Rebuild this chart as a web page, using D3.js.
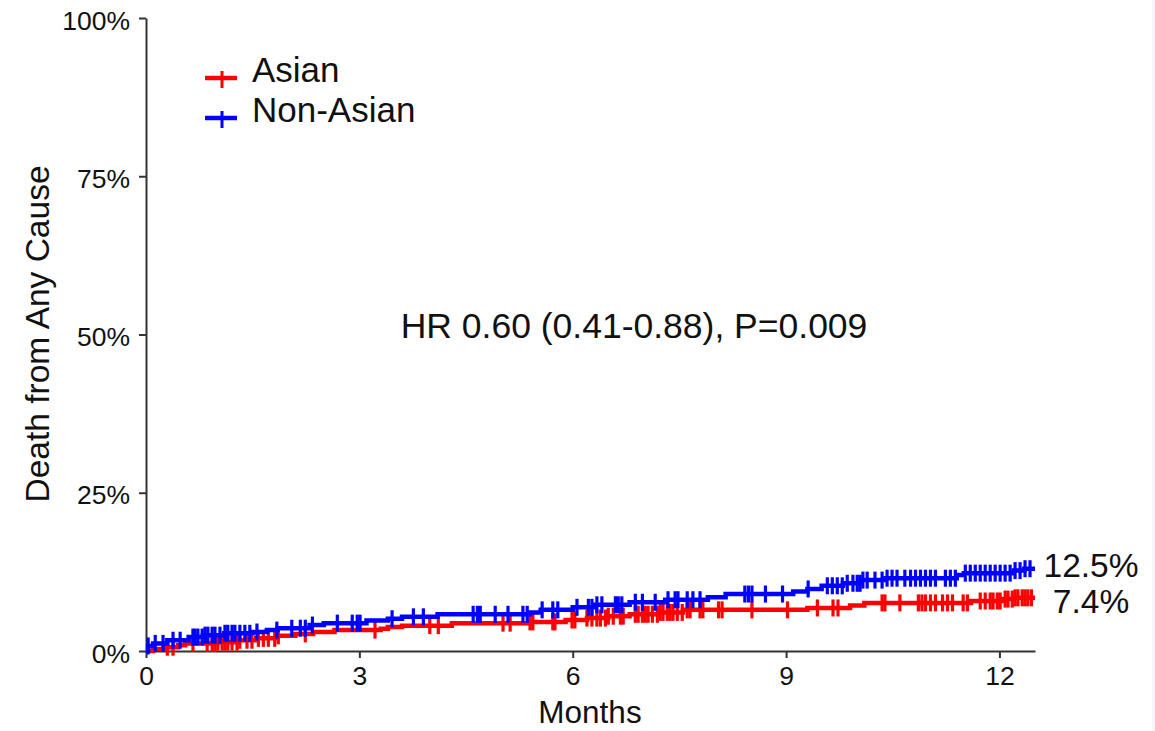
<!DOCTYPE html>
<html>
<head>
<meta charset="utf-8">
<script src="https://cdn.jsdelivr.net/npm/d3@7"></script>
<style>
  html, body { margin: 0; padding: 0; background: #fff; }
  svg { display: block; font-family: Arial, "Liberation Sans", sans-serif; }
</style>
</head>
<body>
<svg id="main-svg" width="1155" height="731"></svg>
<script>
// ----- //
// data (months, cumulative % dead)
// ----- //
const asianSteps = [
  [0, 0], [0.1, 0.3], [0.25, 0.6], [0.45, 0.9], [0.55, 1.2], [1.0, 1.4], [1.3, 1.7],
  [1.55, 2.0], [1.85, 2.4], [2.1, 2.7], [2.35, 3.0], [2.65, 3.3], [3.3, 3.5], [3.4, 3.8],
  [3.6, 4.0], [4.3, 4.4], [5.4, 4.6], [5.9, 4.9], [6.2, 5.2], [6.5, 5.5], [6.8, 5.8],
  [7.2, 6.1], [7.55, 6.5], [9.3, 6.8], [9.9, 7.2], [10.1, 7.6], [11.6, 7.9], [12.05, 8.2],
  [12.2, 8.4]
];
const nonAsianSteps = [
  [0, 0], [0.03, 0.8], [0.1, 1.2], [0.3, 1.7], [0.6, 2.2], [0.8, 2.5], [1.1, 2.8],
  [1.5, 3.0], [1.7, 3.3], [1.85, 3.6], [2.3, 4.1], [2.5, 4.4], [3.1, 4.8], [3.4, 5.1],
  [3.6, 5.4], [4.1, 5.8], [5.4, 6.1], [5.55, 6.5], [6.0, 6.9], [6.3, 7.3], [6.8, 7.7],
  [7.3, 8.1], [7.9, 8.5], [8.15, 9.0], [9.1, 9.4], [9.3, 9.8], [9.5, 10.3], [9.8, 10.7],
  [10.05, 11.2], [10.4, 11.5], [11.4, 12.0], [11.5, 12.3], [12.2, 12.7], [12.35, 13.0]
];
// censored times (months)
const asianCensor = [
  0.30, 0.38, 0.66, 0.86, 0.93, 0.97, 1.01, 1.07, 1.11, 1.15, 1.21, 1.28, 1.32, 1.42, 1.49,
  1.58, 1.65, 1.72, 1.81, 1.86, 2.24, 3.22, 3.99, 4.11, 5.02, 5.12, 5.40, 5.44, 5.72, 5.75,
  5.99, 6.03, 6.20, 6.27, 6.34, 6.39, 6.46, 6.50, 6.57, 6.67, 6.71, 6.88, 6.92, 6.98, 7.02,
  7.06, 7.12, 7.19, 7.23, 7.27, 7.33, 7.37, 7.41, 7.47, 7.54, 7.61, 7.65, 7.79, 7.83, 8.05,
  8.10, 8.52, 9.02, 9.44, 9.66, 9.73, 10.35, 10.39, 10.60, 10.86, 10.91, 10.96, 11.03, 11.10,
  11.20, 11.27, 11.34, 11.49, 11.55, 11.73, 11.80, 11.87, 11.91, 11.97, 12.01, 12.08, 12.12,
  12.18, 12.22, 12.26, 12.32, 12.36, 12.40, 12.45
];
const nonAsianCensor = [
  0.03, 0.13, 0.24, 0.38, 0.48, 0.66, 0.69, 0.73, 0.79, 0.83, 0.87, 0.93, 0.97, 1.04, 1.11,
  1.15, 1.21, 1.25, 1.32, 1.39, 1.46, 1.56, 1.84, 2.05, 2.17, 2.24, 2.34, 2.69, 2.90, 2.97,
  3.01, 3.46, 3.76, 3.90, 4.60, 4.66, 4.70, 4.91, 5.09, 5.30, 5.36, 5.57, 5.72, 5.79, 6.06,
  6.22, 6.27, 6.34, 6.41, 6.60, 6.64, 6.69, 6.88, 6.98, 7.16, 7.34, 7.44, 7.48, 7.61, 7.69,
  7.79, 8.42, 8.47, 8.52, 8.71, 8.95, 9.31, 9.58, 9.65, 9.72, 9.79, 9.86, 9.94, 10.00, 10.04,
  10.08, 10.14, 10.25, 10.35, 10.42, 10.49, 10.56, 10.67, 10.75, 10.82, 10.89, 10.96, 11.03,
  11.10, 11.24, 11.31, 11.38, 11.52, 11.59, 11.66, 11.73, 11.80, 11.87, 11.94, 12.01, 12.08,
  12.15, 12.22, 12.29, 12.36, 12.43
];
const xTicks = [0, 3, 6, 9, 12];
const yTicks = [0, 25, 50, 75, 100];
const groups = ["Asian", "Non-Asian"];
const endLabels = ["7.4%", "12.5%"];

// ----- //
// layout
// ----- //
const svg = d3.select("#main-svg");
const x = d3.scaleLinear().domain([0, 12.5]).range([146, 1035]);
const y = d3.scaleLinear().domain([0, 100]).range([651, 18]);
const axisColor = "#333";

// faint strip at the right edge
svg.append("rect").attr("x", 1152).attr("y", 0).attr("width", 3).attr("height", 731).attr("fill", "#f6f7fa");

// ----- //
// axes
// ----- //
const xAxis = svg.append("g")
    .attr("transform", `translate(0,${y(0)})`)
    .call(d3.axisBottom(x).tickValues(xTicks).tickSize(7).tickPadding(8).tickSizeOuter(0));
const yAxis = svg.append("g")
    .attr("transform", `translate(${x(0)},0)`)
    .call(d3.axisLeft(y).tickValues(yTicks).tickFormat(d => d + "%").tickSize(7).tickPadding(9).tickSizeOuter(0));
[xAxis, yAxis].forEach(a => {
    a.select(".domain").attr("stroke", axisColor).attr("stroke-width", 2);
    a.selectAll(".tick line").attr("stroke", axisColor).attr("stroke-width", 2);
    a.selectAll(".tick text").attr("fill", "#111").style("font-size", "26.5px")
        .style("font-family", "Arial, 'Liberation Sans', sans-serif");
});
xAxis.selectAll(".tick text").attr("dy", "0.72em");
yAxis.selectAll(".tick text").attr("dy", "0.42em");

// axis titles
svg.append("text")
    .attr("x", 590).attr("y", 723)
    .attr("text-anchor", "middle")
    .style("font-size", "31.5px").attr("fill", "#111")
    .text("Months");
svg.append("text")
    .attr("transform", `translate(49,334) rotate(-90)`)
    .attr("text-anchor", "middle")
    .style("font-size", "33.5px").attr("fill", "#111")
    .text("Death from Any Cause");

// ----- //
// curves
// ----- //
const colors = d3.scaleOrdinal().domain(groups).range(["#ff0000", "#0000ff"]);
const steps = [asianSteps, nonAsianSteps];
const censors = [asianCensor, nonAsianCensor];
const xEnd = 12.5;

// step value at time t (for placing the censor marks on the curve)
function valueAt(stepData, t) {
    let v = stepData[0][1];
    for (const s of stepData) { if (s[0] <= t) v = s[1]; }
    return v;
}

const line = d3.line().x(d => x(d[0])).y(d => y(d[1])).curve(d3.curveStepAfter);

groups.forEach((g, i) => {
    const data = steps[i].concat([[xEnd, steps[i][steps[i].length - 1][1]]]);
    const grp = svg.append("g");
    grp.append("path")
        .datum(data)
        .attr("fill", "none")
        .attr("stroke", colors(g))
        .attr("stroke-width", 4.5)
        .attr("d", line);
    grp.selectAll("line.censor")
        .data(censors[i])
        .enter()
        .append("line")
        .attr("class", "censor")
        .attr("x1", d => x(d)).attr("x2", d => x(d))
        .attr("y1", d => y(valueAt(steps[i], d)) - 8.5)
        .attr("y2", d => y(valueAt(steps[i], d)) + 8.5)
        .attr("stroke", colors(g))
        .attr("stroke-width", 3.2);
});

// end labels
const endY = [613, 577];
groups.forEach((g, i) => {
    svg.append("text")
        .attr("x", 1091).attr("y", endY[i])
        .attr("text-anchor", "middle")
        .style("font-size", "33.5px").attr("fill", "#111")
        .text(endLabels[i]);
});

// HR annotation
svg.append("text")
    .attr("x", 634).attr("y", 338)
    .attr("text-anchor", "middle")
    .style("font-size", "35.5px").attr("fill", "#111")
    .text("HR 0.60 (0.41-0.88), P=0.009");

// ----- //
// legend
// ----- //
const legend = svg.append("g");
const legendY = [78, 118];
groups.forEach((g, i) => {
    legend.append("line")
        .attr("x1", 205).attr("x2", 237)
        .attr("y1", legendY[i]).attr("y2", legendY[i])
        .attr("stroke", colors(g)).attr("stroke-width", 4.5);
    legend.append("line")
        .attr("x1", 222).attr("x2", 222)
        .attr("y1", legendY[i] - 7).attr("y2", legendY[i] + 10)
        .attr("stroke", colors(g)).attr("stroke-width", 3);
    legend.append("text")
        .attr("x", 252).attr("y", legendY[i] + 4)
        .style("font-size", "35px").attr("fill", "#111")
        .text(g);
});
</script>
</body>
</html>
